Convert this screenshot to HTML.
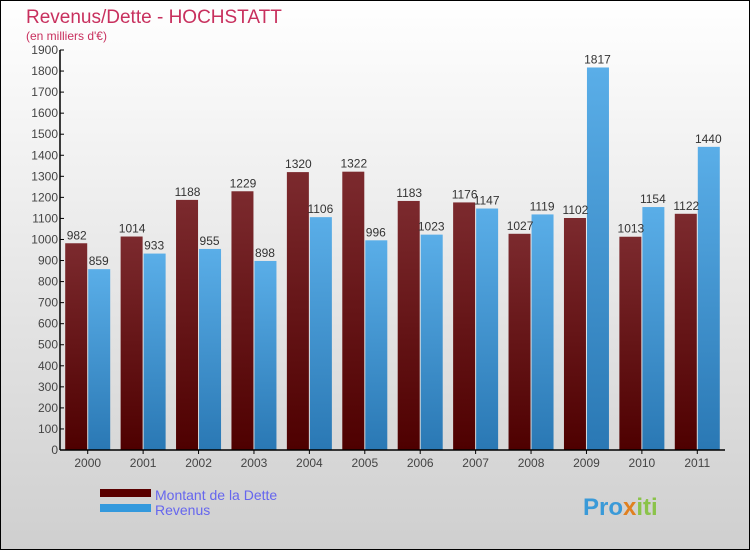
<!DOCTYPE html>
<html><head><meta charset="utf-8"><style>
html,body{margin:0;padding:0}
body{width:750px;height:550px;overflow:hidden;font-family:"Liberation Sans",sans-serif}
</style></head><body>
<svg width="750" height="550" xmlns="http://www.w3.org/2000/svg">
<defs>
<linearGradient id="bg" x1="0" y1="0" x2="0" y2="1"><stop offset="0" stop-color="#ffffff"/><stop offset="1" stop-color="#cfcfcf"/></linearGradient>
<linearGradient id="gd" x1="0" y1="0" x2="0" y2="1"><stop offset="0" stop-color="#7c2a2e"/><stop offset="1" stop-color="#4e0000"/></linearGradient>
<linearGradient id="gr" x1="0" y1="0" x2="0" y2="1"><stop offset="0" stop-color="#5aaee8"/><stop offset="1" stop-color="#2a78b4"/></linearGradient>
</defs>
<rect x="0.5" y="0.5" width="749" height="549" fill="url(#bg)" stroke="#000"/>
<text x="26" y="23" font-size="19" fill="#c8305e">Revenus/Dette - HOCHSTATT</text>
<text x="26" y="40" font-size="12" fill="#c8305e">(en milliers d'€)</text>
<g id="plot"></g>
<rect x="100" y="489" width="51" height="8" fill="#5a0000"/>
<rect x="100" y="504" width="51" height="8" fill="#3399dd"/>
<text x="155" y="500" font-size="14" fill="#6666ee">Montant de la Dette</text>
<text x="155" y="515" font-size="14" fill="#6666ee">Revenus</text>
<text x="583" y="515" font-size="24" font-weight="bold" fill="#3a9ad8">Pro<tspan fill="#e08020">x</tspan><tspan fill="#8bc34a">iti</tspan></text>
</svg>
<script>
const years=["2000","2001","2002","2003","2004","2005","2006","2007","2008","2009","2010","2011"];
const dette=[982,1014,1188,1229,1320,1322,1183,1176,1027,1102,1013,1122];
const revenus=[859,933,955,898,1106,996,1023,1147,1119,1817,1154,1440];
const ticks=[0,100,200,300,400,500,600,700,800,900,1000,1100,1200,1300,1400,1500,1600,1700,1800,1900];
const NS="http://www.w3.org/2000/svg";
const g=document.getElementById('plot');
const x0=60,x1=725,y0=450,yTop=50,vmax=1900;
const y=v=>y0-(v/vmax)*(y0-yTop);
const step=(x1-x0)/years.length;
function mk(t,a,txt){const e=document.createElementNS(NS,t);for(const k in a)e.setAttribute(k,a[k]);if(txt!==undefined)e.textContent=txt;g.appendChild(e);return e;}
ticks.forEach(t=>{
 const l=mk('line',{x1:x0,x2:x0+4,y1:y(t),y2:y(t),stroke:'#000'});
 
 
 const tx=mk('text',{x:x0-2,y:y(t)+4,'font-size':12,'text-anchor':'end',fill:'#444'},t);
 
 
});
years.forEach((yr,i)=>{
 const c=x0+step*i+step/2;
 const bw=22;
 const b1=mk('rect',{x:c-bw-0.5,y:y(dette[i]),width:bw,height:y0-y(dette[i]),fill:'url(#gd)'});
 
 
 const b2=mk('rect',{x:c+0.5,y:y(revenus[i]),width:bw,height:y0-y(revenus[i]),fill:'url(#gr)'});
 
 
 const t1=mk('text',{x:c-bw/2,y:y(dette[i])-4,'font-size':12,'text-anchor':'middle',fill:'#333'},dette[i]);
 
 
 const t2=mk('text',{x:c+bw/2,y:y(revenus[i])-4,'font-size':12,'text-anchor':'middle',fill:'#333'},revenus[i]);
 
 
 const tk=mk('line',{x1:c,x2:c,y1:y0,y2:y0+4,stroke:'#000'});
 
 
 const xl=mk('text',{x:c,y:y0+17,'font-size':12,'text-anchor':'middle',fill:'#444'},yr);
 
 
});
const ax=mk('line',{x1:x0,x2:x0,y1:yTop,y2:y0,stroke:'#000','stroke-width':1.5});


const axx=mk('line',{x1:x0,x2:x1,y1:y0,y2:y0,stroke:'#000','stroke-width':1.5});


</script>
</body></html>
